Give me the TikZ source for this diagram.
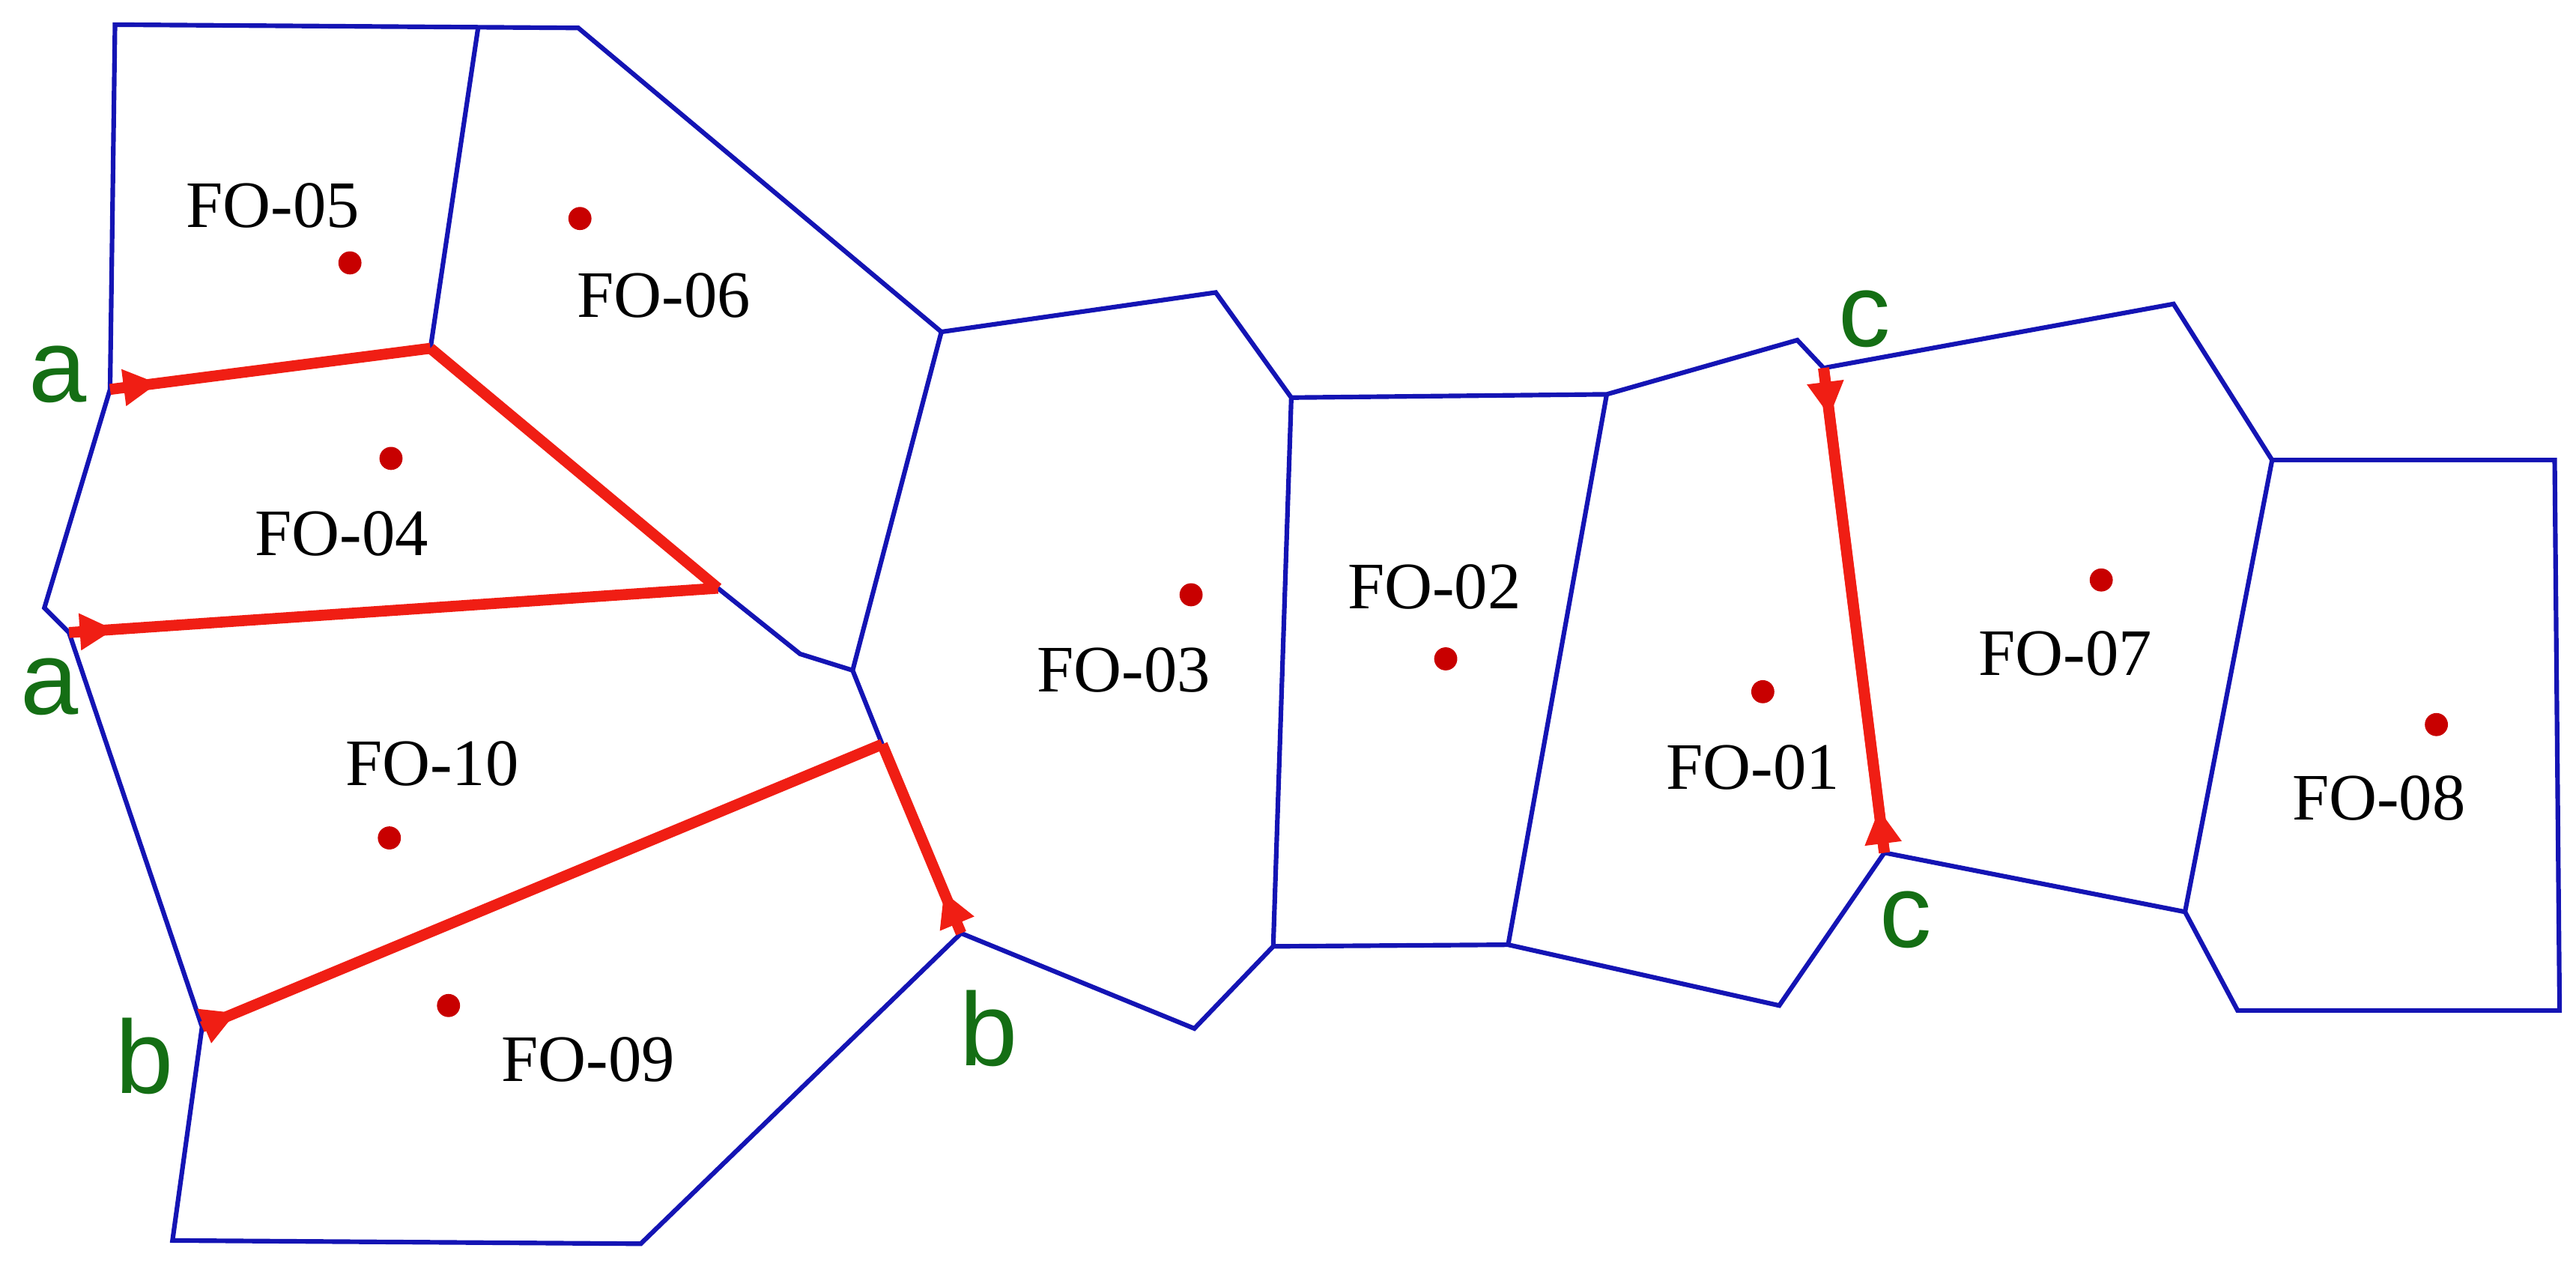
\documentclass[tikz,border=0pt]{standalone}
\usepackage{fontspec}
\setmainfont{Liberation Serif}
\newfontfamily\lblfont{Liberation Sans}
\usetikzlibrary{decorations.markings,arrows.meta}
\definecolor{cblue}{RGB}{20,20,180}
\definecolor{cred}{RGB}{240,30,20}
\definecolor{cdot}{RGB}{200,0,0}
\definecolor{cgreen}{RGB}{20,110,20}
\tikzset{
 edge/.style={draw=cblue,line width=1.6pt,line join=miter},
 redl/.style={draw=cred,line width=3.8pt},
 redarr/.style={redl,postaction={decorate},decoration={markings,mark=at position #1 with {\arrow[cred]{Triangle[length=12pt,width=12pt]}}}},
 fo/.style={font=\fontsize{23}{23}\selectfont,inner sep=0pt},
 dotc/.style={circle,fill=cdot,inner sep=0pt,minimum size=8pt},
 lab/.style={text=cgreen,font=\lblfont\fontsize{36}{36}\selectfont,inner sep=0pt}
}
\begin{document}
\begin{tikzpicture}[x=0.02cm,y=-0.02cm]
\useasboundingbox (0,0) rectangle (1568,774);
\draw[edge] (70,15)--(352,17)--(573,202)--(740,178)--(786,242)--(978,240)--(1094,207)--(1110,224)--(1323,185)--(1383,280)--(1555,280)--(1558,615)--(1362,615)--(1330,555)--(1147,519)--(1083,612)--(918,575)--(775,576)--(727,626)--(585,568)--(390,757)--(105,755)--(123,625)--(42,385)--(27,370)--(67,237)--cycle;
\draw[edge] (291,17)--(262,212);
\draw[edge] (437,358)--(487,398)--(519,408);
\draw[edge] (573,202)--(519,408)--(537,453);
\draw[edge] (786,242)--(775,576);
\draw[edge] (978,240)--(918,575);
\draw[edge] (1383,280)--(1330,555);
\coordinate (a1) at (67,237); \coordinate (p1) at (262,212); \coordinate (p2) at (437,358);
\coordinate (a2) at (42,385); \coordinate (b1) at (123,625); \coordinate (p3) at (537,453);
\coordinate (b2) at (585,568); \coordinate (c1) at (1110,224); \coordinate (c2) at (1147,519);
\draw[redarr=0.15] (a1)--(p1);
\draw[redl,line join=round] (p1)--(p2);
\draw[redarr=0.07] (a2)--(p2);
\draw[redarr=0.05] (b1)--(p3);
\draw[redarr=0.22] (b2)--(p3);
\draw[redarr=0.1] (c1)--(c2);
\draw[redarr=0.09] (c2)--(c1);
\node[lab] (la1) at (35,228) {a};
\node[lab] (la2) at (30,418) {a};
\node[lab] (lb1) at (88,643) {b};
\node[lab] (lb2) at (602,626) {b};
\node[lab] (lc1) at (1135,194) {c};
\node[lab] (lc2) at (1160,560) {c};
\foreach \n/\x/\y in {d5/213/160,d6/353/133,d4/238/279,d10/237/510,d9/273/612,d3/725/362,d2/880/401,d1/1073/421,d7/1279/353,d8/1483/441}
  \node[dotc] (\n) at (\x,\y) {};
\node[fo] (t5) at (166,125) {FO-05};
\node[fo] (t6) at (404,180) {FO-06};
\node[fo] (t4) at (208,325) {FO-04};
\node[fo] (t10) at (263,465) {FO-10};
\node[fo] (t9) at (358,645) {FO-09};
\node[fo] (t3) at (684,408) {FO-03};
\node[fo] (t2) at (873,357) {FO-02};
\node[fo] (t1) at (1067,467) {FO-01};
\node[fo] (t7) at (1257,398) {FO-07};
\node[fo] (t8) at (1448,486) {FO-08};
\end{tikzpicture}
\end{document}
